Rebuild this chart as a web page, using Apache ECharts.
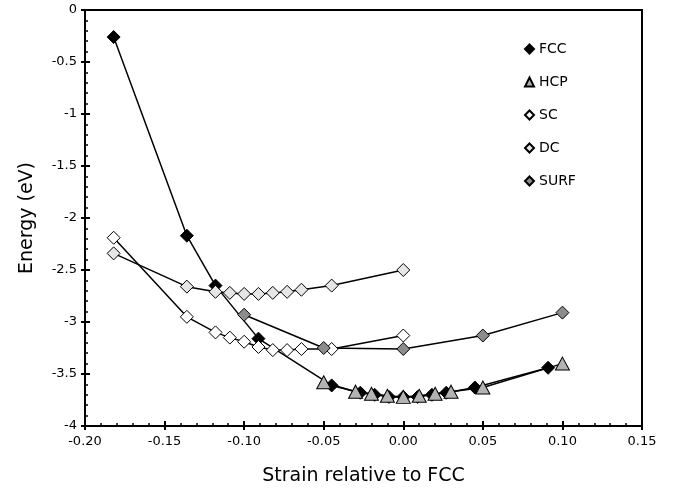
<!DOCTYPE html>
<html>
<head>
<meta charset="utf-8">
<script src="https://cdn.jsdelivr.net/npm/echarts@6/dist/echarts.min.js"></script>
<style>
html,body{margin:0;padding:0;background:#fff;}
#c{width:674px;height:492px;}
</style>
</head>
<body>
<div id="c"></div>
<script>
var fccX = [-0.182, -0.136, -0.118, -0.091, -0.045, -0.027, -0.018, -0.009, 0, 0.009, 0.018, 0.027, 0.045, 0.091];
var fccY = [-0.26, -2.17, -2.65, -3.16, -3.61, -3.68, -3.70, -3.72, -3.72, -3.72, -3.70, -3.68, -3.63, -3.44];
var hcpX = [-0.05, -0.03, -0.02, -0.01, 0, 0.01, 0.02, 0.03, 0.05, 0.10];
var hcpY = [-3.58, -3.67, -3.69, -3.71, -3.72, -3.71, -3.69, -3.67, -3.63, -3.40];
var scX = [-0.182, -0.136, -0.118, -0.109, -0.100, -0.091, -0.082, -0.073, -0.064, -0.045, 0];
var scY = [-2.19, -2.95, -3.10, -3.15, -3.19, -3.24, -3.27, -3.27, -3.26, -3.26, -3.13];
var dcX = [-0.182, -0.136, -0.118, -0.109, -0.100, -0.091, -0.082, -0.073, -0.064, -0.045, 0];
var dcY = [-2.34, -2.66, -2.71, -2.72, -2.73, -2.73, -2.72, -2.71, -2.69, -2.65, -2.50];
var surfX = [-0.10, -0.05, 0, 0.05, 0.10];
var surfY = [-2.93, -3.25, -3.26, -3.13, -2.91];

var seriesNames = ['FCC', 'HCP', 'SC', 'DC', 'SURF'];
var xTitle = 'Strain relative to FCC';
var yTitle = 'Energy (eV)';

function pairs(xs, ys) { return xs.map(function (x, i) { return [x, ys[i]]; }); }

var FONT = 'DejaVu Sans';
function mkSeries(name, xs, ys, symbol, size, fill) {
  return {
    name: name, type: 'line', xAxisIndex: 0, yAxisIndex: 0,
    data: pairs(xs, ys),
    symbol: symbol, symbolSize: size,
    lineStyle: { color: '#000', width: 1.5 },
    itemStyle: { color: fill, borderColor: '#000', borderWidth: 1, opacity: 1 },
    emphasis: { disabled: true },
    animation: false
  };
}

var chart = echarts.init(document.getElementById('c'), null, { renderer: 'canvas' });
var axisCommonX = { type: 'value', min: -0.2, max: 0.15, interval: 0.05 };
var axisCommonY = { type: 'value', min: -4, max: 0, interval: 0.5 };
chart.setOption({
  backgroundColor: '#fff',
  animation: false,
  grid: { left: 85, right: 32, top: 10, bottom: 66, show: true, borderColor: '#000', borderWidth: 2, backgroundColor: 'transparent' },
  legend: {
    orient: 'vertical', left: 524, top: 42, itemGap: 19, padding: 0,
    itemWidth: 9, itemHeight: 9,
    textStyle: { fontFamily: FONT, fontSize: 14, color: '#000' },
    data: [
      { name: 'FCC', icon: 'diamond' },
      { name: 'HCP', icon: 'triangle' },
      { name: 'SC', icon: 'diamond' },
      { name: 'DC', icon: 'diamond' },
      { name: 'SURF', icon: 'diamond' }
    ]
  },
  xAxis: [
    Object.assign({}, axisCommonX, {
      position: 'bottom',
      name: xTitle, nameLocation: 'middle', nameGap: 41,
      nameTextStyle: { fontFamily: FONT, fontSize: 19, color: '#000' },
      axisLine: { show: true, onZero: false, lineStyle: { color: '#000', width: 2 } },
      axisTick: { show: true, inside: true, length: 5, lineStyle: { color: '#000', width: 2 } },
      minorTick: { show: true, splitNumber: 5, length: 3, lineStyle: { color: '#000', width: 1.5 } },
      axisLabel: { fontFamily: FONT, fontSize: 13, color: '#000', margin: 9,
        formatter: function (v) { return (Math.abs(v) < 1e-9 ? 0 : v).toFixed(2); } },
      splitLine: { show: false }
    }),
    Object.assign({}, axisCommonX, {
      position: 'bottom', gridIndex: 0,
      axisLine: { show: false, onZero: false },
      axisTick: { show: true, inside: false, length: 4, lineStyle: { color: '#000', width: 2 } },
      axisLabel: { show: false }, splitLine: { show: false }
    })
  ],
  yAxis: [
    Object.assign({}, axisCommonY, {
      position: 'left',
      name: yTitle, nameLocation: 'middle', nameGap: 48, nameRotate: 90,
      nameTextStyle: { fontFamily: FONT, fontSize: 19, color: '#000' },
      axisLine: { show: true, onZero: false, lineStyle: { color: '#000', width: 2 } },
      axisTick: { show: true, inside: true, length: 5, lineStyle: { color: '#000', width: 2 } },
      minorTick: { show: true, splitNumber: 5, length: 3, lineStyle: { color: '#000', width: 1.5 } },
      axisLabel: { fontFamily: FONT, fontSize: 13, color: '#000', margin: 8,
        formatter: function (v) { return String(Math.round(v * 10) / 10); } },
      splitLine: { show: false }
    }),
    Object.assign({}, axisCommonY, {
      position: 'left', gridIndex: 0,
      axisLine: { show: false, onZero: false },
      axisTick: { show: true, inside: false, length: 4, lineStyle: { color: '#000', width: 2 } },
      axisLabel: { show: false }, splitLine: { show: false }
    })
  ],
  series: [
    mkSeries(seriesNames[0], fccX, fccY, 'diamond', 13, '#000000'),
    mkSeries(seriesNames[1], hcpX, hcpY, 'triangle', [14, 13], '#b3b3b3'),
    mkSeries(seriesNames[2], scX, scY, 'diamond', 13, '#ffffff'),
    mkSeries(seriesNames[3], dcX, dcY, 'diamond', 13, '#e6e6e6'),
    mkSeries(seriesNames[4], surfX, surfY, 'diamond', 13, '#8c8c8c')
  ]
});
</script>
</body>
</html>
